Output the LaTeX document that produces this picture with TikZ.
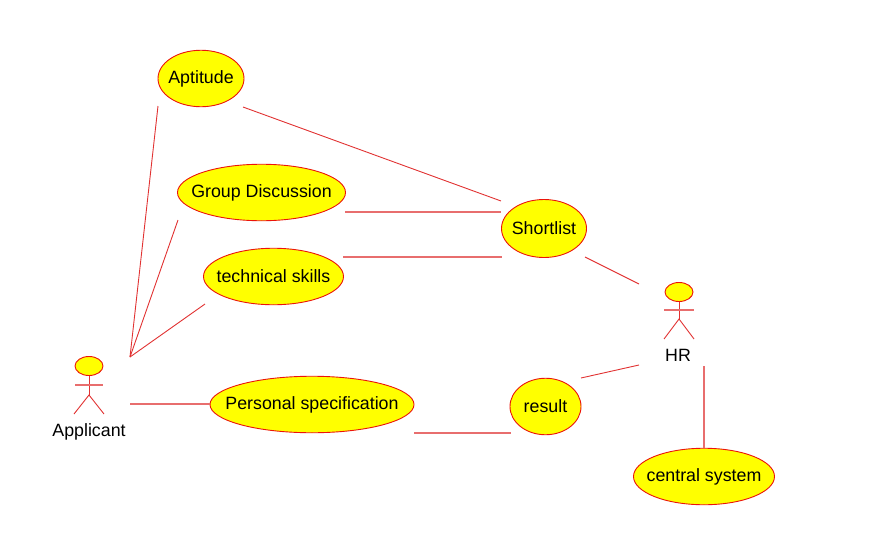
\documentclass[tikz,border=0pt]{standalone}
\usepackage{fontspec}
\setmainfont{Liberation Sans}
\usetikzlibrary{shapes.geometric}
\definecolor{uline}{RGB}{225,50,50}
\definecolor{upink}{RGB}{232,110,110}
\definecolor{uedge}{RGB}{235,20,10}
\definecolor{ufill}{RGB}{255,255,0}
\newcommand{\uclabel}[2][-1pt]{\makebox[0pt]{\raisebox{#1}{\fontsize{17.8}{20}\selectfont #2}}}
\tikzset{
  x=1pt,y=-1pt,
  usecase/.style={ellipse,draw=uedge,line width=0.9pt,fill=ufill,inner sep=0pt,text=black},
  actorhead/.style={usecase,minimum width=28pt,minimum height=19pt},
  actorlabel/.style={inner sep=0pt,text=black,font=\fontsize{17.8}{20}\selectfont},
  conn/.style={draw=uline,line width=0.9pt},
  straightconn/.style={draw=upink,line width=1.7pt},
  limb/.style={draw=uline,line width=0.9pt}
}
\begin{document}
\begin{tikzpicture}
\useasboundingbox (0,0) rectangle (875,554);
% use cases
\node[usecase,minimum width=86pt,minimum height=56.5pt] (aptitude) at (201,78.5) {\uclabel[-2.5pt]{Aptitude}};
\node[usecase,minimum width=168pt,minimum height=56.5pt] (group) at (261.5,192.5) {\uclabel[0pt]{Group Discussion}};
\node[usecase,minimum width=140pt,minimum height=56.5pt] (tech) at (273.5,276.5) {\uclabel[-0.5pt]{technical skills}};
\node[usecase,minimum width=85pt,minimum height=58pt] (shortlist) at (544,228.5) {\uclabel{Shortlist}};
\node[usecase,minimum width=204pt,minimum height=56.5pt] (personal) at (312,404.5) {\uclabel[-0.5pt]{Personal specification}};
\node[usecase,minimum width=71pt,minimum height=56.5pt] (result) at (545.5,406.5) {\uclabel{result}};
\node[usecase,minimum width=141pt,minimum height=56.5pt] (central) at (704,476.5) {\uclabel[-2.5pt]{central system}};
% Applicant
\node[actorhead] (apphead) at (89,366) {};
\node[actorlabel] (applabel) at (89,431.5) {Applicant};
\coordinate (appcross) at (89,395);
\coordinate (apparml) at (75,385);
\coordinate (apparmr) at (103,385);
\coordinate (applegl) at (74,414);
\coordinate (applegr) at (104,414);
\draw[limb] (apphead.south) -- (appcross);
\draw[straightconn] (apparml) -- (apparmr);
\draw[limb] (applegl) -- (appcross) -- (applegr);
% HR
\node[actorhead] (hrhead) at (679,292) {};
\node[actorlabel] (hrlabel) at (678,355) {HR};
\coordinate (hrcross) at (679,319);
\coordinate (hrarml) at (664,310);
\coordinate (hrarmr) at (694,310);
\coordinate (hrlegl) at (664,339);
\coordinate (hrlegr) at (694,339);
\draw[limb] (hrhead.south) -- (hrcross);
\draw[straightconn] (hrarml) -- (hrarmr);
\draw[limb] (hrlegl) -- (hrcross) -- (hrlegr);
% free ends
\coordinate (appA) at (130,357);
\coordinate (appB) at (130,404);
\coordinate (aptL) at (158,106);
\coordinate (aptR) at (243,107);
\coordinate (grpL) at (178,220);
\coordinate (grpR) at (345,212);
\coordinate (tecL) at (205,304);
\coordinate (tecR) at (343,257);
\coordinate (shA) at (501,201);
\coordinate (shB) at (501,212);
\coordinate (shC) at (502,257);
\coordinate (shD) at (585,257);
\coordinate (hrA) at (639,284);
\coordinate (hrB) at (639,365);
\coordinate (hrC) at (704,366);
\coordinate (resA) at (581,378);
\coordinate (resB) at (511,433);
\coordinate (perR) at (414,433);
\coordinate (perL) at (210,404);
\coordinate (cenT) at (704,448);
% connectors
\draw[conn] (aptL) -- (appA);
\draw[conn] (grpL) -- (appA);
\draw[conn] (tecL) -- (appA);
\draw[straightconn] (appB) -- (perL);
\draw[conn] (aptR) -- (shA);
\draw[straightconn] (grpR) -- (shB);
\draw[straightconn] (tecR) -- (shC);
\draw[conn] (shD) -- (hrA);
\draw[straightconn] (perR) -- (resB);
\draw[conn] (resA) -- (hrB);
\draw[straightconn] (hrC) -- (cenT);
\end{tikzpicture}
\end{document}
